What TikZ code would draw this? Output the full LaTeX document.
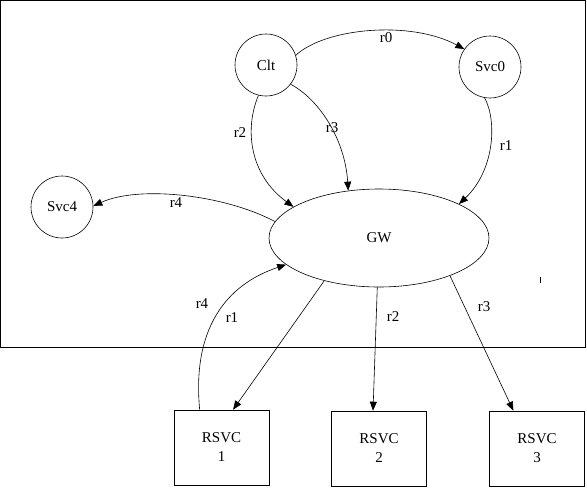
\documentclass[tikz,border=0pt]{standalone}
\usepackage{fontspec}
\setmainfont{Liberation Serif}
\usetikzlibrary{shapes.geometric,arrows.meta}
\begin{document}
\begin{tikzpicture}[x=1pt,y=-1pt,
  every node/.style={font=\fontsize{15}{19}\selectfont},
  edge/.style={line width=0.6pt,-{Triangle[length=9pt,width=7pt]}},
  plain/.style={line width=0.6pt},
  circ/.style={draw,circle,line width=0.6pt,minimum size=62pt,inner sep=0pt},
  ell/.style={draw,ellipse,line width=0.6pt,minimum width=220pt,minimum height=98pt,inner sep=0pt},
  box/.style={draw,rectangle,line width=0.6pt,minimum width=95pt,minimum height=75pt,align=center,inner sep=0pt},
  lbl/.style={inner sep=1pt}]
\useasboundingbox (0,0) rectangle (587,488);
\draw[line width=1pt] (0.5,0.5) rectangle (585,347.5);
% nodes
\node[circ] (clt) at (266,65) {Clt};
\node[circ] (svc0) at (490,67) {Svc0};
\node[circ] (svc4) at (62,207) {Svc4};
\node[ell] (gw) at (379,238) {GW};
\node[box] (rs1) at (221.5,447.5) {RSVC\\1};
\node[box] (rs2) at (379,448.5) {RSVC\\2};
\node[box] (rs3) at (537,448.5) {RSVC\\3};
% connectors
\draw[edge] (clt.18) .. controls (325,28) and (410,20) .. (svc0.145);
\draw[edge] (clt.-104) .. controls (244,130) and (250,175) .. (gw.160);
\draw[edge] (clt.-38) .. controls (320,100) and (345,140) .. (gw.123);
\draw[edge] (svc0.-100) .. controls (497,120) and (495,170) .. (gw.23);
\draw[edge] (gw.171) .. controls (225,195) and (140,185) .. (svc4.2);
\draw[edge] (rs1.120) .. controls (192,330) and (225,285) .. (gw.196);
\draw[edge] (gw.218) -- (rs1.73);
\draw[edge] (gw.-92) -- (rs2.99);
\draw[edge] (gw.-28) -- (rs3.122);
% labels
\node[lbl] (l0) at (386,38) {r0};
\node[lbl] (l2) at (240,133) {r2};
\node[lbl] (l3) at (332,128) {r3};
\node[lbl] (l1) at (506,146) {r1};
\node[lbl] (l4) at (176,203) {r4};
\node[lbl] (l4b) at (202,304) {r4};
\node[lbl] (l1b) at (232,318) {r1};
\node[lbl] (l2b) at (393,317) {r2};
\node[lbl] (l3b) at (484,307) {r3};
% small tick
\coordinate (t1) at (540,277);
\coordinate (t2) at (540,283);
\draw[plain] (t1) -- (t2);
\end{tikzpicture}
\end{document}
